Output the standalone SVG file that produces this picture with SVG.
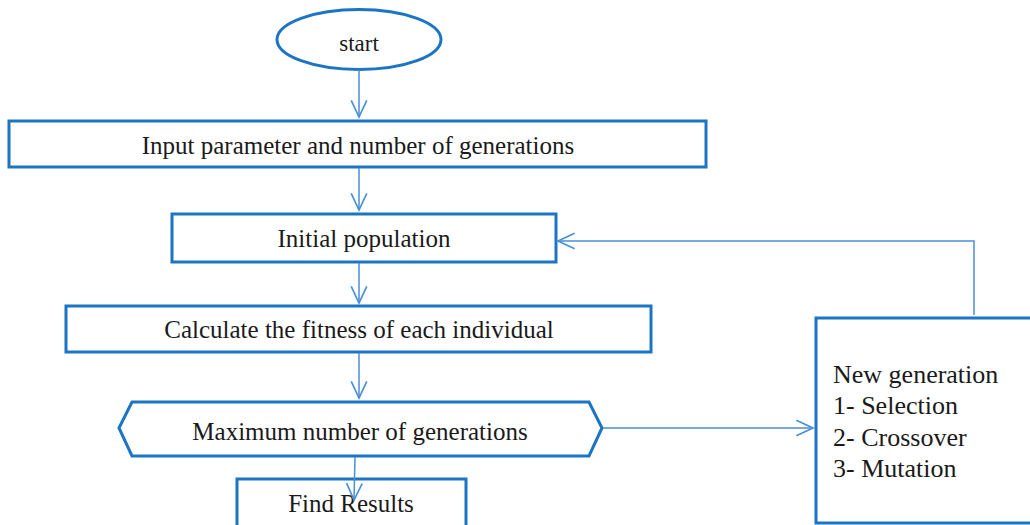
<svg xmlns="http://www.w3.org/2000/svg" width="1030" height="525" viewBox="0 0 1030 525">
  <style>
    .node { fill: #ffffff; stroke: #1C74C4; stroke-width: 3; }
    .conn { fill: none; stroke: #4A8FD6; stroke-width: 1.5; }
    .lbl { font-family: "Liberation Serif", "Times New Roman", serif; font-size: 25px; fill: #1a1a1a; text-anchor: middle; }
    .lst { font-family: "Liberation Serif", "Times New Roman", serif; font-size: 26px; fill: #1a1a1a; }
  </style>
  <defs>
    <marker id="arr" markerUnits="userSpaceOnUse" markerWidth="20" markerHeight="20" viewBox="-16 -8 18 16" refX="0" refY="0" orient="auto">
      <path d="M-15,-7 L0,0 L-15,7" fill="none" stroke="#4A8FD6" stroke-width="1.5"/>
    </marker>
  </defs>
  <rect width="1030" height="525" fill="#ffffff"/>

  <g id="start">
    <ellipse class="node" cx="359" cy="39.5" rx="82" ry="30"/>
    <text class="lbl" x="359" y="51" style="font-size:23px">start</text>
  </g>

  <g id="input">
    <rect class="node" x="9" y="121" width="697" height="46"/>
    <text class="lbl" x="358" y="154">Input parameter and number of generations</text>
  </g>

  <g id="initial">
    <rect class="node" x="172" y="214" width="384" height="48"/>
    <text class="lbl" x="364" y="247">Initial population</text>
  </g>

  <g id="fitness">
    <rect class="node" x="66" y="306" width="585" height="46"/>
    <text class="lbl" x="359" y="338">Calculate the fitness of each individual</text>
  </g>

  <g id="maximum">
    <polygon class="node" points="119,428 132,402 589,402 602,428 589,456 132,456"/>
    <text class="lbl" x="360" y="440">Maximum number of generations</text>
  </g>

  <g id="results">
    <rect class="node" x="237" y="479" width="229" height="60"/>
    <text class="lbl" x="351" y="512">Find Results</text>
  </g>

  <g id="newgen">
    <rect class="node" x="816" y="318" width="240" height="205"/>
    <text class="lst" x="833" y="383">New generation</text>
    <text class="lst" x="833" y="414">1- Selection</text>
    <text class="lst" x="833" y="446">2- Crossover</text>
    <text class="lst" x="833" y="477">3- Mutation</text>
  </g>

  <g id="connectors">
    <line class="conn" x1="359" y1="70" x2="359" y2="117" marker-end="url(#arr)"/>
    <line class="conn" x1="359" y1="168" x2="359" y2="210" marker-end="url(#arr)"/>
    <line class="conn" x1="359" y1="263" x2="359" y2="303" marker-end="url(#arr)"/>
    <line class="conn" x1="359" y1="353" x2="359" y2="398" marker-end="url(#arr)"/>
    <line class="conn" x1="355" y1="457" x2="354" y2="500" marker-end="url(#arr)"/>
    <line class="conn" x1="603" y1="428" x2="813" y2="428" marker-end="url(#arr)"/>
    <polyline class="conn" points="974,315 974,241 558,241" marker-end="url(#arr)"/>
  </g>
</svg>
